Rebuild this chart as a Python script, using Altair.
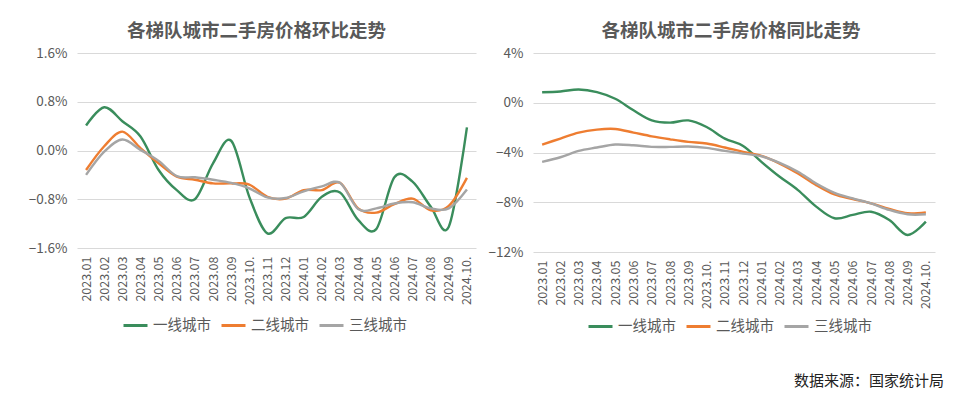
import altair as alt
import pandas as pd

months = ["2023.01", "2023.02", "2023.03", "2023.04", "2023.05", "2023.06", "2023.07",
          "2023.08", "2023.09", "2023.10.", "2023.11", "2023.12", "2024.01", "2024.02",
          "2024.03", "2024.04", "2024.05", "2024.06", "2024.07", "2024.08", "2024.09",
          "2024.10."]
series = ["一线城市", "二线城市", "三线城市"]
colors = ["#3A8D5C", "#EE7D31", "#A5A5A5"]

# 环比 (month-on-month), %
mom_t1 = [0.41, 0.71, 0.48, 0.23, -0.32, -0.65, -0.80, -0.21, 0.16, -0.76, -1.36,
          -1.11, -1.09, -0.76, -0.69, -1.14, -1.29, -0.44, -0.51, -0.92, -1.25, 0.38]
mom_t2 = [-0.32, 0.07, 0.31, 0.04, -0.21, -0.43, -0.48, -0.54, -0.54, -0.56, -0.76,
          -0.79, -0.65, -0.65, -0.53, -0.95, -1.02, -0.88, -0.79, -0.98, -0.91, -0.45]
mom_t3 = [-0.40, -0.02, 0.18, 0.01, -0.17, -0.42, -0.44, -0.48, -0.53, -0.62, -0.77,
          -0.78, -0.67, -0.59, -0.53, -0.96, -0.95, -0.87, -0.85, -0.95, -0.95, -0.64]

# 同比 (year-on-year), %
yoy_t1 = [0.85, 0.91, 1.07, 0.85, 0.32, -0.61, -1.42, -1.60, -1.42, -1.95, -2.88,
          -3.47, -4.75, -5.95, -7.02, -8.35, -9.29, -9.02, -8.76, -9.43, -10.63, -9.56]
yoy_t2 = [-3.36, -2.88, -2.40, -2.16, -2.11, -2.40, -2.70, -2.94, -3.15, -3.28, -3.60,
          -3.95, -4.27, -4.89, -5.69, -6.62, -7.37, -7.74, -8.09, -8.54, -8.89, -8.81]
yoy_t3 = [-4.75, -4.38, -3.87, -3.60, -3.36, -3.42, -3.55, -3.55, -3.52, -3.63, -3.87,
          -4.09, -4.30, -4.83, -5.55, -6.49, -7.24, -7.69, -8.09, -8.62, -8.97, -8.97]

mom_ticks = [-1.6, -0.8, 0.0, 0.8, 1.6]
yoy_ticks = [-12, -8, -4, 0, 4]

source_text = ["数据来源：国家统计局"]


def long_df(vals):
    rows = []
    for s, v in zip(series, vals):
        for m, x in zip(months, v):
            rows.append({"month": m, "series": s, "value": x})
    return pd.DataFrame(rows)


FONT = "Noto Sans CJK SC"
GREY = "#595959"


def line_chart(df, ticks, fmt, title, w, h, legend_x, legend_y, title_dx):
    return alt.Chart(df).mark_line(interpolate="cardinal", strokeWidth=2.4).encode(
        x=alt.X("month:N", sort=months, title=None,
                scale=alt.Scale(padding=0.5),
                axis=alt.Axis(labelAngle=-90, labelFontSize=12.5, labelColor=GREY,
                              labelFont=FONT, ticks=False, domain=False, grid=False,
                              labelPadding=8, labelBaseline="middle", labelAlign="right")),
        y=alt.Y("value:Q", title=None,
                scale=alt.Scale(domain=[ticks[0], ticks[-1]], nice=False, zero=False),
                axis=alt.Axis(values=ticks, labelExpr=fmt, labelFontSize=13.5,
                              labelColor=GREY, labelFont=FONT, ticks=False, domain=False,
                              gridColor="#D9D9D9", gridWidth=1.2, labelPadding=10,
                              minExtent=45, maxExtent=45)),
        color=alt.Color("series:N", sort=series,
                        scale=alt.Scale(domain=series, range=colors),
                        legend=alt.Legend(title=None, orient="none", direction="horizontal",
                                          legendX=legend_x, legendY=legend_y,
                                          symbolType="stroke", symbolSize=576,
                                          symbolStrokeWidth=3, labelFontSize=14.5,
                                          labelColor=GREY, labelFont=FONT,
                                          labelOffset=4, columnPadding=4)),
    ).properties(
        width=w, height=h,
        title=alt.TitleParams(title, font=FONT, fontSize=18.5, fontWeight="bold",
                              color=GREY, anchor="middle", frame="group",
                              dx=title_dx, offset=6),
    )


left = line_chart(long_df([mom_t1, mom_t2, mom_t3]), mom_ticks,
                  "format(datum.value, '.1f') + '%'",
                  "各梯队城市二手房价格环比走势", 399, 195, 45, 259, -20)

right_lines = line_chart(long_df([yoy_t1, yoy_t2, yoy_t3]), yoy_ticks,
                         "format(datum.value, 'd') + '%'",
                         "各梯队城市二手房价格同比走势", 402, 199, 54, 260, -3)

src = alt.Chart(pd.DataFrame({"t": source_text})).mark_text(
    align="right", baseline="middle", font=FONT, fontSize=15, color="#222222"
).encode(text="t:N", x=alt.value(411), y=alt.value(328))

right = alt.layer(right_lines, src).properties(
    width=402, height=199,
    title=alt.TitleParams("各梯队城市二手房价格同比走势", font=FONT, fontSize=18.5,
                          fontWeight="bold", color=GREY, anchor="middle",
                          frame="group", dx=-3, offset=6),
)

chart = alt.hconcat(left, right, spacing=12).resolve_legend(
    color="independent").resolve_scale(color="independent", y="independent").properties(
    padding={"left": 28, "top": 21, "right": 0, "bottom": 0},
    background="white",
).configure_view(stroke=None)

chart.save("out.html", embed_options={"renderer": "svg", "actions": False})
